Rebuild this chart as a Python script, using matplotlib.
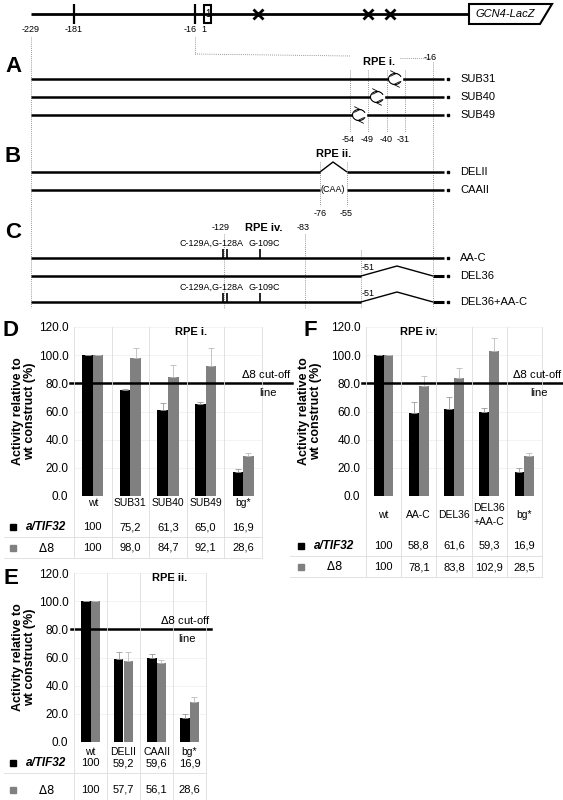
import matplotlib
matplotlib.use("Agg")
import matplotlib.pyplot as plt
import numpy as np
from matplotlib.patches import Polygon, Rectangle, Arc

plt.rcParams['font.family'] = ['Liberation Sans', 'DejaVu Sans']

# ---------------- data ----------------
cats_D = ["wt", "SUB31", "SUB40", "SUB49", "bg*"]
tif_D = [100, 75.2, 61.3, 65.0, 16.9]
d8_D = [100, 98.0, 84.7, 92.1, 28.6]
tif_D_err = [0, 1, 5, 2, 2]
d8_D_err = [0, 7, 8, 13, 2]

cats_E = ["wt", "DELII", "CAAII", "bg*"]
tif_E = [100, 59.2, 59.6, 16.9]
d8_E = [100, 57.7, 56.1, 28.6]
tif_E_err = [0, 5, 3, 3]
d8_E_err = [0, 6, 2, 3]

cats_F = ["wt", "AA-C", "DEL36", "DEL36\n+AA-C", "bg*"]
tif_F = [100, 58.8, 61.6, 59.3, 16.9]
d8_F = [100, 78.1, 83.8, 102.9, 28.5]
tif_F_err = [0, 8, 9, 3, 3]
d8_F_err = [0, 7, 7, 9, 2]

yticks = [0, 20, 40, 60, 80, 100, 120]
cutoff = 80

W, H = 563, 800
fig = plt.figure(figsize=(W / 100, H / 100), dpi=100)
ov = fig.add_axes([0, 0, 1, 1], zorder=5)
ov.set_xlim(0, W); ov.set_ylim(H, 0); ov.axis('off'); ov.patch.set_alpha(0)

K = 'black'
def L(xs, ys, lw=1.8, c=K, ls='-', **kw):
    ov.plot(xs, ys, color=c, lw=lw, ls=ls, solid_capstyle='butt', **kw)
def T(x, y, s, fs=7.5, ha='center', va='center', **kw):
    ov.text(x, y, s, fontsize=fs, ha=ha, va=va, **kw)
def dot(x1, x2, y1, y2):
    ov.plot([x1, x2], [y1, y2], color='#777', lw=0.6, ls=(0, (1, 1.5)))

# ---------------- top schematic ----------------
L([31, 469], [14, 14], lw=2)
for x in [74, 195]:
    L([x, x], [4, 24], lw=1.6)
ov.add_patch(Rectangle((204, 5), 7, 18, fill=False, lw=1.5, zorder=6))
T(207.5, 14, "1", fs=7)
for x in [258, 368, 390]:
    ov.plot([x], [14], marker='x', ms=7, mew=2, color=K)
ov.add_patch(Polygon([[469, 4], [552, 4], [540, 24], [469, 24]], closed=True, fill=False, lw=1.5))
T(505, 14, "GCN4-LacZ", fs=8, style='italic')
for x, s in [(31, "-229"), (74, "-181"), (190, "-16"), (204, "1")]:
    T(x, 30, s, fs=6.5)

dot(31, 31, 37, 308)
dot(195, 195, 37, 54)
dot(195, 350, 54, 56)
dot(400, 433, 58, 58)
T(379, 62, "RPE i.", fs=8, weight='bold')
T(430, 58, "-16", fs=6.5)
dot(433, 433, 62, 308)

def construct(y, label, x1=31, x2=444):
    L([x1, x2], [y, y])
    ov.plot([x2 + 4], [y], 's', ms=1.5, color=K)
    T(460, y, label, fs=8, ha='left')

# A
T(13, 67, "A", fs=16, weight='bold')
for x in [350, 368, 387, 405]:
    dot(x, x, 70, 132)
for y, lab, cx in [(79, "SUB31", 395), (97, "SUB40", 377), (115, "SUB49", 359)]:
    construct(y, lab)
    ov.add_patch(Rectangle((cx - 6.5, y - 5), 13, 10, color='white', zorder=6))
    ov.add_patch(Arc((cx, y), 13, 11, theta1=20, theta2=340, lw=0.8, zorder=7))
    ov.annotate("", xy=(cx + 2, y - 5.5), xytext=(cx - 1, y - 5.5),
                arrowprops=dict(arrowstyle='->', lw=0.6), zorder=8)
    ov.annotate("", xy=(cx - 2, y + 5.5), xytext=(cx + 1, y + 5.5),
                arrowprops=dict(arrowstyle='->', lw=0.6), zorder=8)
for x, s in [(348, "-54"), (367, "-49"), (386, "-40"), (403, "-31")]:
    T(x, 139, s, fs=6.5)

# B
T(13, 157, "B", fs=16, weight='bold')
T(334, 154, "RPE ii.", fs=8, weight='bold')
for x in [320, 347]:
    dot(x, x, 162, 206)
L([31, 320], [172, 172]); L([320, 333, 347], [172, 162, 172], lw=1)
construct(172, "DELII", x1=347)
L([31, 320], [190, 190]); L([347, 444], [190, 190])
ov.plot([448], [190], 's', ms=1.5, color=K); T(460, 190, "CAAII", fs=8, ha='left')
T(333, 190, "(CAA)", fs=6.5)
T(320, 214, "-76", fs=6.5); T(346, 214, "-55", fs=6.5)

# C
T(13, 232, "C", fs=16, weight='bold')
T(221, 228, "-129", fs=6.5)
T(264, 228, "RPE iv.", fs=8, weight='bold')
T(303, 228, "-83", fs=6.5)
dot(224, 224, 234, 308); dot(305, 305, 234, 308); dot(361, 361, 250, 308)
for y in [258, 302]:
    L([223, 223], [y - 9, y], lw=1.2); L([227, 227], [y - 9, y], lw=1.2)
    L([260, 260], [y - 9, y], lw=1.2)
    T(212, y - 15, "C-129A,G-128A", fs=6.5)
    T(264, y - 15, "G-109C", fs=6.5)
construct(258, "AA-C")
for y, lab in [(276, "DEL36"), (302, "DEL36+AA-C")]:
    L([31, 361], [y, y])
    L([361, 397, 433], [y, y - 10, y], lw=1)
    L([433, 444], [y, y], lw=2.2)
    ov.plot([448], [y], 's', ms=1.5, color=K)
    T(460, y, lab, fs=8, ha='left')
    T(368, y - 8, "-51", fs=6.5)

# ---------------- bar panels ----------------
GR = '#808080'
def panel(cats, tif, d8, te, de, left, right, y0, y120, title, title_x, letter, lx, ly,
          xlab_y, r1, r2, leg_x, line_r, ylab_x, table_left):
    n = len(cats)
    ax = fig.add_axes([left / W, 1 - y0 / H, (right - left) / W, (y0 - y120) / H])
    x = np.arange(n)
    bw = 0.28
    ax.bar(x - bw / 2, tif, bw, color='black', zorder=2)
    ax.bar(x + bw / 2, d8, bw, color=GR, zorder=2)
    ax.errorbar(x - bw / 2, tif, yerr=[np.zeros(n), te], fmt='none', ecolor='#999', elinewidth=0.6, capsize=2, capthick=0.6, zorder=3)
    ax.errorbar(x + bw / 2, d8, yerr=[np.zeros(n), de], fmt='none', ecolor='#bbb', elinewidth=0.6, capsize=2, capthick=0.6, zorder=3)
    ax.set_xlim(-0.5, n - 0.5); ax.set_ylim(0, 120)
    ax.set_yticks(yticks)
    ax.set_yticklabels([f"{v:.1f}" for v in yticks], fontsize=8.5)
    ax.tick_params(length=0, pad=4)
    ax.set_xticks([])
    for s in ax.spines.values():
        s.set_visible(False)
    ax.yaxis.grid(True, color='#eee', lw=0.5); ax.set_axisbelow(True)
    ax.axhline(cutoff, xmin=-0.02, xmax=(line_r - left) / (right - left), color=K, lw=1.8, clip_on=False, zorder=4)
    ycut = y0 - (y0 - y120) * cutoff / 120
    T(line_r, ycut - 9, "$\\mathit{\\Delta 8}$ cut-off", fs=8, ha='right')
    T(line_r - 24, ycut + 10, "line", fs=8, ha='center')
    T(title_x, y120 + 5, title, fs=8, weight='bold')
    T(lx, ly, letter, fs=16, weight='bold')
    ov.text(ylab_x, (y0 + y120) / 2, "Activity relative to\nwt construct (%)", fontsize=9, weight='bold',
            rotation=90, ha='center', va='center', linespacing=1.1)
    cw = (right - left) / n
    for i in range(n + 1):
        xx = left + i * cw
        ov.plot([xx, xx], [y120, r2 + 10], color='#ddd', lw=0.6)
    for yy in [r1 + 10, r2 + 10]:
        ov.plot([table_left, right], [yy, yy], color='#ddd', lw=0.6)
    for i, c in enumerate(cats):
        cx = left + (i + 0.5) * cw
        T(cx, xlab_y, c, fs=7.5, linespacing=1.4)
        T(cx, r1, f"{tif[i]:.1f}".replace('.', ',') if i else "100", fs=8)
        T(cx, r2, f"{d8[i]:.1f}".replace('.', ',') if i else "100", fs=8)
    ov.add_patch(Rectangle((leg_x - 3, r1 - 3), 6, 6, color='black'))
    ov.add_patch(Rectangle((leg_x - 3, r2 - 3), 6, 6, color=GR))
    T(leg_x + 33, r1, "a/TIF32", fs=8.5, weight='bold', style='italic')
    T(leg_x + 33, r2, "$\\mathbf{\\mathit{\\Delta 8}}$", fs=8.5)

panel(cats_D, tif_D, d8_D, tif_D_err, d8_D_err, 74, 262, 496, 327, "RPE i.", 191,
      "D", 11, 330, 503, 527, 548, 13, 292, 24, 4)
panel(cats_E, tif_E, d8_E, tif_E_err, d8_E_err, 74, 206, 742, 573, "RPE ii.", 170,
      "E", 11, 578, 752, 763, 790, 13, 211, 24, 4)
panel(cats_F, tif_F, d8_F, tif_F_err, d8_F_err, 366, 542, 496, 327, "RPE iv.", 419,
      "F", 310, 330, 515, 546, 567, 301, 563, 310, 290)

fig.savefig("out.png", dpi=100)
